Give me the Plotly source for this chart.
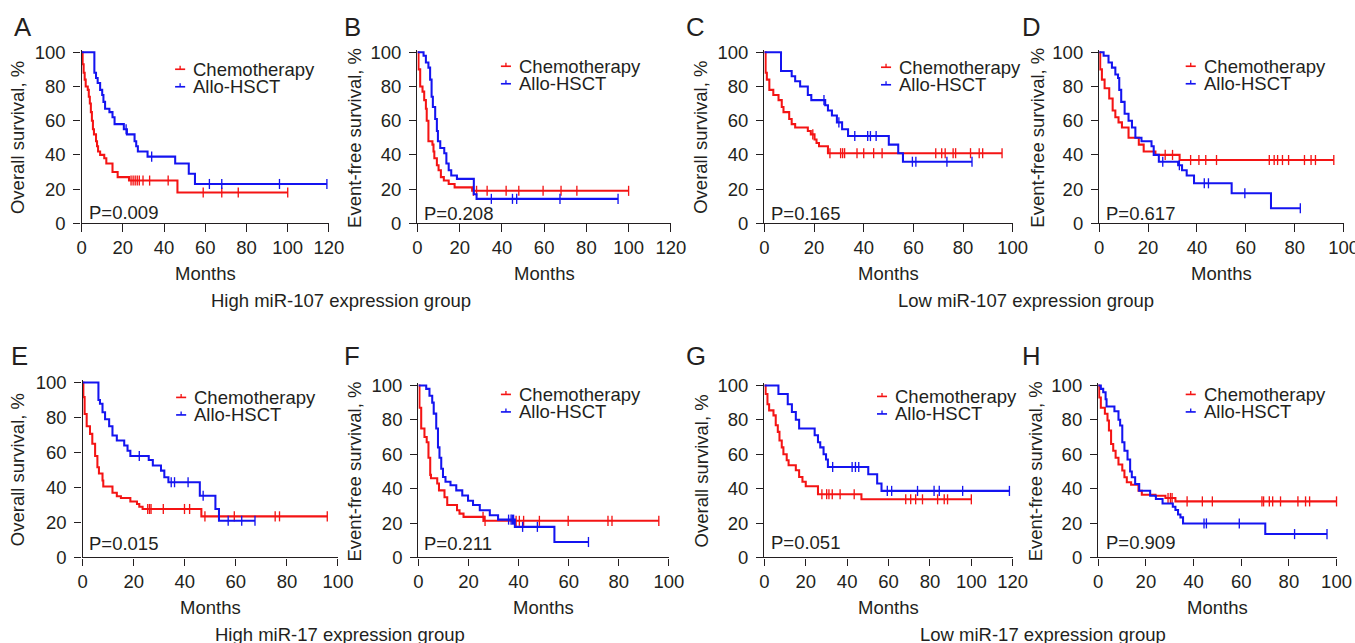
import plotly.graph_objects as go

PAGE_W, PAGE_H = 1355, 643
BODY_MARGIN = 8          # default browser margin around the figure
VIEW_X, VIEW_Y = 0.98, 0.972   # page-to-picture scale of the viewer
W = round(PAGE_W / VIEW_X) - BODY_MARGIN
H = round(PAGE_H / VIEW_Y) - BODY_MARGIN
FONT = "Liberation Sans, Arial, Helvetica, sans-serif"
INK = "#231f20"
RED = "#f41414"
BLUE = "#1414f0"


def sz(v):
    """size in figure pixels for a size wanted on the picture"""
    return v / VIEW_Y


# ---------------- Kaplan-Meier steps: time of each drop (months) and survival (%) after it ----------------
# A: overall survival, high miR-107
A_chemo_t = [0, 0.5, 1, 1.5, 2, 3, 3.5, 4, 4.5, 5, 5.5, 6, 7, 7.5, 8, 9, 11, 12, 15, 17.5, 23, 46.5]
A_chemo_s = [100, 93, 88, 84, 80, 78, 74, 70, 65, 60, 55, 52, 48, 45, 42, 40, 38, 35, 30, 27, 25, 18]
A_chemo_c = [24, 25, 26, 27, 28, 29.8, 33, 42, 59, 68, 76, 100]
A_allo_t = [0, 6.2, 7, 7.8, 9, 10, 10.6, 11.4, 13.5, 15, 16, 20.5, 22, 25.7, 26.5, 27.3, 32, 45.4, 52, 55]
A_allo_s = [100, 88, 85, 82, 78, 75, 71, 67, 65, 62, 58, 55, 52, 48, 45, 42, 39, 35, 29, 23]
A_allo_c = [21.6, 34, 62, 68, 96, 119]

# B: event-free survival, high miR-107
B_chemo_t = [0, 0.5, 1.3, 2.4, 3.2, 4, 4.4, 5.2, 7.1, 7.6, 8, 9.2, 10, 11.1, 12.5, 14.8, 17.6, 25.9]
B_chemo_s = [100, 90, 80, 77, 72, 67, 60, 48, 46, 42, 38, 34, 31, 27, 25, 23, 21, 19]
B_chemo_c = [26.5, 28, 33, 42, 48, 59.5, 68, 75.5, 100]
B_allo_t = [0, 2.9, 4, 5.2, 6, 6.7, 7.3, 8.4, 9.2, 9.7, 10.8, 12.7, 13.7, 14.8, 16, 18.7, 26.7, 28]
B_allo_s = [100, 98, 94, 91, 84, 74, 68, 61, 54, 48, 44, 41, 35, 31, 28, 26, 17, 14.3]
B_allo_c = [35, 45, 47, 67.5, 95]

# C: overall survival, low miR-107
C_chemo_t = [0, 0.5, 1, 2, 3.6, 5.7, 7, 7.7, 10, 11, 12.4, 17.5, 18.7, 20.2, 21, 22, 25.6]
C_chemo_s = [100, 88, 84, 78, 75, 72, 68, 65, 61, 58, 56, 54, 52, 49, 47, 45, 41]
C_chemo_c = [19.5, 26.4, 30.7, 31.5, 32.3, 37.3, 40, 44, 47.4, 69, 71.4, 72.8, 76, 77, 83, 86.5, 87.9, 95.7]
C_allo_t = [0, 6.7, 11, 12.4, 14.4, 17.5, 18.9, 24.5, 25.6, 27.2, 29.2, 31.3, 33.7, 50.1, 53.9, 55.8]
C_allo_s = [100, 89, 86, 83, 80, 75, 72, 69, 66, 63, 59, 55, 51, 46, 41, 36]
C_allo_c = [24, 30, 36.4, 41.6, 42.7, 45, 59.6, 61, 73.5, 83.6]

# D: event-free survival, low miR-107
D_chemo_t = [0, 0.4, 1.1, 2.2, 4.1, 5.5, 6.6, 7.9, 9.3, 12, 16.2, 18.2, 23, 32.9]
D_chemo_s = [100, 90, 84, 79, 73, 66, 62, 59, 56, 50, 46, 42, 40, 37]
D_chemo_c = [27, 30, 37.4, 40.8, 43.6, 48, 69.6, 71.6, 73, 75, 77.5, 84, 86.7, 88.5, 96]
D_allo_t = [0, 1.8, 3.8, 5.2, 6.6, 7.7, 8.2, 9, 10.4, 12, 13.4, 14.8, 17.3, 21.4, 22.3, 24.4, 32.3, 33.9, 35.8, 38.8, 54.2, 70.3]
D_allo_s = [100, 98, 94, 91, 87, 85, 78, 71, 64, 60, 56, 50, 48, 45, 40, 36, 34, 31, 28, 23.4, 17.6, 8.8]
D_allo_c = [26, 32.8, 43, 44.7, 59.6, 82.3]

# E: overall survival, high miR-17
E_chemo_t = [0, 0.3, 0.8, 1.6, 2.9, 3.8, 4.9, 5.8, 6.4, 7.8, 8.1, 11.7, 13.4, 15, 18.7, 21.3, 22.2, 23.5, 46.5]
E_chemo_s = [100, 91.6, 82, 75, 70.6, 65, 58, 51.5, 48, 44, 40.5, 37, 35, 34, 32, 30.5, 29, 27.7, 23.5]
E_chemo_c = [25.5, 26.2, 26.8, 31.6, 39.9, 41.9, 47.9, 59.4, 75.4, 77.1, 95.8]
E_allo_t = [0, 6.2, 6.8, 7.8, 8.8, 10.4, 11.7, 13.4, 16.3, 17.6, 18.7, 25.9, 27.5, 30.7, 32, 33.6, 45.9, 52, 53.4]
E_allo_s = [100, 90, 87.8, 83, 79, 75, 69.7, 66.8, 64, 61, 58, 55.7, 52.5, 49.6, 45.8, 43, 35.3, 27.7, 21]
E_allo_c = [22.2, 34.7, 36, 41.3, 47.2, 57, 62.3, 67.5]

# F: event-free survival, high miR-17
F_chemo_t = [0, 0.4, 1.1, 2.4, 3.3, 4, 4.7, 5, 7.5, 8.2, 10.4, 11.5, 15.4, 16.4, 18, 26.2]
F_chemo_s = [100, 87, 75, 70, 67, 58, 48, 46, 43, 39, 35, 30.5, 27.5, 25.5, 23.6, 21.3]
F_chemo_c = [25.8, 26.6, 39, 40.3, 42, 48.3, 59.8, 75.7, 77.3, 96]
F_allo_t = [0, 3.1, 4.4, 5.5, 6.1, 7.1, 7.8, 8.4, 9.1, 9.8, 10.8, 12.8, 15.1, 17.5, 19.8, 21.8, 24.5, 28.5, 31.8, 38.5, 54.3]
F_allo_s = [100, 98, 94, 90, 83.6, 75, 64, 58, 51.6, 46.8, 44, 42, 39, 36, 33, 30.5, 27.5, 24.6, 22, 17.8, 9]
F_allo_c = [36, 37, 37.5, 38, 41.6, 47.5, 67.9]

# G: overall survival, low miR-17
G_chemo_t = [0, 0.6, 1.5, 2.3, 4.4, 5.5, 6.5, 7.3, 8.4, 9.2, 10.8, 11.7, 15.2, 16.8, 18.4, 20, 25.9, 46.9]
G_chemo_s = [100, 95, 89, 85.5, 82.6, 76.8, 73, 68, 64, 60, 56.5, 53.6, 50.7, 46.8, 44, 41.4, 36.8, 33.8]
G_chemo_c = [27.8, 30.1, 31.2, 32.8, 36.6, 43.4, 68.3, 70.7, 73.1, 76.4, 83.7, 86.9, 88.5, 100]
G_allo_t = [0, 6.8, 11.3, 13.3, 15.2, 16.8, 24.3, 25.9, 27, 28.6, 29.8, 30.7, 50.2, 54.5, 56.6]
G_allo_s = [100, 95, 89, 84.5, 80, 75, 71, 67, 64, 60, 57, 52.6, 48.4, 43, 38.7]
G_allo_c = [33, 42.4, 44, 45.6, 59.4, 61.5, 74, 82, 84.5, 95.8, 118.4]

# H: event-free survival, low miR-17
H_chemo_t = [0, 0.4, 1.1, 2.8, 3.9, 4.5, 5.4, 6.3, 7.3, 8.5, 10.1, 11, 12, 13.8, 16.9, 18.3, 24, 28.2, 32.4]
H_chemo_s = [100, 93, 87, 83.5, 79.6, 73.8, 66, 62, 58, 54, 50.5, 46.6, 43.7, 42.3, 38.8, 36.5, 35.9, 34.6, 32.6]
H_chemo_c = [29.3, 30.3, 31, 37.3, 43.7, 47.9, 68.7, 69.4, 71.8, 73.2, 76.5, 83.8, 87, 88.7, 100]
H_allo_t = [0, 1.1, 2.1, 3.1, 3.5, 6.8, 8.5, 9.2, 10.1, 11, 12.3, 13.4, 14.1, 15.5, 17.2, 21.8, 24.2, 27, 31.3, 32.4, 33.5, 34.5, 35.6, 70.1]
H_allo_s = [100, 98, 96, 92, 87.8, 85, 80, 76.7, 67, 62, 57, 50, 46.6, 42.7, 38.8, 35.9, 34, 31.4, 29.5, 27.6, 25, 23.3, 19.8, 13.6]
H_allo_c = [44.4, 45.4, 59.2, 82.4, 96]

panel_letters = ["A", "B", "C", "D", "E", "F", "G", "H"]
y_titles = ["Overall survival, %", "Event-free survival, %"] * 4
p_values = ["P=0.009", "P=0.208", "P=0.165", "P=0.617", "P=0.015", "P=0.211", "P=0.051", "P=0.909"]
x_max = [120, 120, 100, 100, 100, 100, 120, 100]
series_names = ["Chemotherapy", "Allo-HSCT"]
group_labels = ["High miR-107 expression group", "Low miR-107 expression group",
                "High miR-17 expression group", "Low miR-17 expression group"]
x_label = "Months"
y_ticks = [0, 20, 40, 60, 80, 100]

curves = [
    (A_chemo_t, A_chemo_s, A_chemo_c, A_allo_t, A_allo_s, A_allo_c),
    (B_chemo_t, B_chemo_s, B_chemo_c, B_allo_t, B_allo_s, B_allo_c),
    (C_chemo_t, C_chemo_s, C_chemo_c, C_allo_t, C_allo_s, C_allo_c),
    (D_chemo_t, D_chemo_s, D_chemo_c, D_allo_t, D_allo_s, D_allo_c),
    (E_chemo_t, E_chemo_s, E_chemo_c, E_allo_t, E_allo_s, E_allo_c),
    (F_chemo_t, F_chemo_s, F_chemo_c, F_allo_t, F_allo_s, F_allo_c),
    (G_chemo_t, G_chemo_s, G_chemo_c, G_allo_t, G_allo_s, G_allo_c),
    (H_chemo_t, H_chemo_s, H_chemo_c, H_allo_t, H_allo_s, H_allo_c),
]

# ---------------- panel geometry (picture pixels) ----------------
# x: left / right pixel of the time axis; y: pixel of 100 % and of 0 %
x_px = [(84, 330), (418, 670), (763, 1010), (1096, 1339),
        (85, 339), (419, 668), (763, 1010), (1095, 1332)]
y_px = [(52, 223)] * 4 + [(382, 557), (385, 557), (385, 557), (385, 557)]
ytitle_x = [21, 356, 700, 1035, 21, 355, 700, 1033]
letter_xy = [(15, 27), (343, 27), (683, 27), (1017, 27), (12, 356), (343, 356), (683, 356), (1017, 356)]
pval_xy = [(89, 212), (423, 213), (768, 213), (1101, 213), (89, 543), (423, 543), (768, 542), (1101, 542)]
legend_xy = [(177, 69), (501, 66), (879, 67), (1182, 66), (178, 397), (501, 394), (875, 396), (1182, 394)]
group_xy = [(342, 300), (1023, 300), (341, 634), (1040, 634)]
Y_TOP = 101.5


def px(x):
    return (x / VIEW_X - BODY_MARGIN) / W


def py(y):
    return 1 - (y / VIEW_Y - BODY_MARGIN) / H


def step_value(ts, ss, t):
    val = ss[0]
    for ti, si in zip(ts, ss):
        if ti <= t:
            val = si
    return val


fig = go.Figure()
annotations = []
shapes = []
layout_axes = {}
txt = dict(family=FONT, size=sz(18), color=INK)

for i in range(8):
    n = "" if i == 0 else str(i + 1)
    xa, ya = "x" + n, "y" + n
    ct, cs, cc, at, as_, ac = curves[i]
    for (ts, ss, cens, color, name) in [(ct, cs, cc, RED, series_names[0]),
                                        (at, as_, ac, BLUE, series_names[1])]:
        end = max(cens)
        fig.add_trace(go.Scatter(
            x=list(ts) + [end], y=list(ss) + [ss[-1]], mode="lines",
            line=dict(color=color, width=sz(2), shape="hv"),
            name=name, showlegend=False, hoverinfo="skip", xaxis=xa, yaxis=ya))
        fig.add_trace(go.Scatter(
            x=cens, y=[step_value(ts, ss, c) for c in cens], mode="markers",
            marker=dict(symbol="line-ns-open", size=sz(7), color=color,
                        line=dict(width=sz(1.3), color=color)),
            name=name, showlegend=False, hoverinfo="skip", cliponaxis=False,
            xaxis=xa, yaxis=ya))

    xl, xr = x_px[i]
    y100, y0 = y_px[i]
    ytop = y0 - (y0 - y100) * Y_TOP / 100
    axis_common = dict(showline=True, linecolor=INK, linewidth=sz(1.2), ticks="outside",
                       ticklen=sz(7), tickwidth=sz(1.2), tickcolor=INK, showgrid=False,
                       zeroline=False, tickfont=txt, fixedrange=True)
    layout_axes["xaxis" + n] = dict(domain=[px(xl), px(xr)], range=[0, x_max[i]], anchor=ya,
                                    tickvals=list(range(0, x_max[i] + 1, 20)),
                                    ticklabelstandoff=0, **axis_common)
    layout_axes["yaxis" + n] = dict(domain=[py(y0), py(ytop)], range=[0, Y_TOP], anchor=xa,
                                    tickvals=y_ticks, ticklabelstandoff=4, **axis_common)

    # y-axis title
    annotations.append(dict(text=y_titles[i], x=px(ytitle_x[i]), y=py((y100 + y0) / 2),
                            xref="paper", yref="paper", textangle=-90, showarrow=False,
                            xanchor="center", yanchor="middle", font=txt))
    # x-axis title
    annotations.append(dict(text=x_label, x=px((xl + xr) / 2), y=py(y0 + 50),
                            xref="paper", yref="paper", showarrow=False,
                            xanchor="center", yanchor="middle", font=txt))
    # panel letter
    lx, ly = letter_xy[i]
    annotations.append(dict(text=panel_letters[i], x=px(lx), y=py(ly), xref="paper", yref="paper",
                            showarrow=False, xanchor="left", yanchor="middle",
                            font=dict(family=FONT, size=sz(25), color=INK)))
    # p value
    pxx, pyy = pval_xy[i]
    annotations.append(dict(text=p_values[i], x=px(pxx), y=py(pyy), xref="paper", yref="paper",
                            showarrow=False, xanchor="left", yanchor="middle", font=txt))
    # legend
    gx, gy = legend_xy[i]
    for k, (name, color) in enumerate(zip(series_names, [RED, BLUE])):
        yy = gy + 17.5 * k
        shapes.append(dict(type="line", xref="paper", yref="paper",
                           x0=px(gx), x1=px(gx + 10), y0=py(yy), y1=py(yy),
                           line=dict(color=color, width=sz(1.6))))
        shapes.append(dict(type="line", xref="paper", yref="paper",
                           x0=px(gx + 5), x1=px(gx + 5), y0=py(yy), y1=py(yy - 3.5),
                           line=dict(color=color, width=sz(1.3))))
        annotations.append(dict(text=name, x=px(gx + 16), y=py(yy), xref="paper", yref="paper",
                                showarrow=False, xanchor="left", yanchor="middle", font=txt))

for label, (gx, gy) in zip(group_labels, group_xy):
    annotations.append(dict(text=label, x=px(gx), y=py(gy), xref="paper", yref="paper",
                            showarrow=False, xanchor="center", yanchor="middle", font=txt))

fig.update_layout(width=W, height=H, margin=dict(l=0, r=0, t=0, b=0),
                  paper_bgcolor="white", plot_bgcolor="white",
                  annotations=annotations, shapes=shapes, **layout_axes)

fig.write_html("out.html")
